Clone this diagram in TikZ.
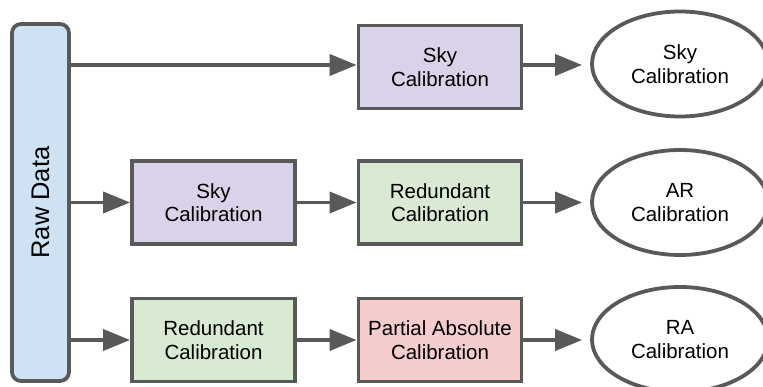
\documentclass[tikz,border=0pt]{standalone}
\usepackage{fontspec}
\setmainfont{Liberation Sans}
\usetikzlibrary{arrows.meta,shapes.geometric}
\definecolor{edge}{HTML}{595959}
\definecolor{skyfill}{HTML}{D9D2E9}
\definecolor{redfill}{HTML}{D9EAD3}
\definecolor{absfill}{HTML}{F4CCCC}
\definecolor{rawfill}{HTML}{CFE2F3}
\tikzset{
  base/.style={draw=edge, line width=3.8pt, font=\fontsize{20.5}{23.5}\selectfont, align=center, inner sep=0pt, text=black},
  calbox/.style={base, rectangle, minimum width=163pt, minimum height=83pt},
  result/.style={base, ellipse, fill=white, minimum width=176pt, minimum height=105pt},
  rawbox/.style={base, rectangle, rounded corners=9pt, fill=rawfill, minimum width=57pt, minimum height=357pt},
  flow/.style={draw=edge, line width=3.8pt, -{Triangle[length=27pt,width=21pt]}},
}
\begin{document}
\begin{tikzpicture}[x=1pt,y=1pt]
\clip (0,0) rectangle (763,387);
\useasboundingbox (0,0) rectangle (763,387);
\node[rawbox] (raw) at (40.5,184.5) {};
\node[base, draw=none, rotate=90, font=\fontsize{25.5}{30}\selectfont] (rawtext) at (40.5,184.5) {Raw Data};
\node[calbox, fill=skyfill] (sky1) at (440,320) {Sky\\Calibration};
\node[calbox, fill=skyfill] (sky2) at (213.5,184.5) {Sky\\Calibration};
\node[calbox, fill=redfill] (red2) at (440,184.5) {Redundant\\Calibration};
\node[calbox, fill=redfill] (red3) at (213.5,47) {Redundant\\Calibration};
\node[calbox, fill=absfill] (abs3) at (440,47) {Partial Absolute\\Calibration};
\node[result] (out1) at (680,323) {Sky\\Calibration};
\node[result] (out2) at (680,184.5) {AR\\Calibration};
\node[result] (out3) at (680,47.5) {RA\\Calibration};
\draw[flow] (raw.east |- 0,322) coordinate (r1) -- (r1 -| sky1.west);
\draw[flow] (raw.east |- sky2.west) -- (sky2.west);
\draw[flow] (raw.east |- red3.west) -- (red3.west);
\draw[flow] (sky2.east) -- (red2.west);
\draw[flow] (red3.east) -- (abs3.west);
\draw[flow, shorten >=8pt] (sky1.east |- 0,322) coordinate (s1) -- (s1 -| out1.west);
\draw[flow, shorten >=8pt] (red2.east) -- (out2.west);
\draw[flow, shorten >=8pt] (abs3.east) -- (abs3.east -| out3.west);
\end{tikzpicture}
\end{document}
